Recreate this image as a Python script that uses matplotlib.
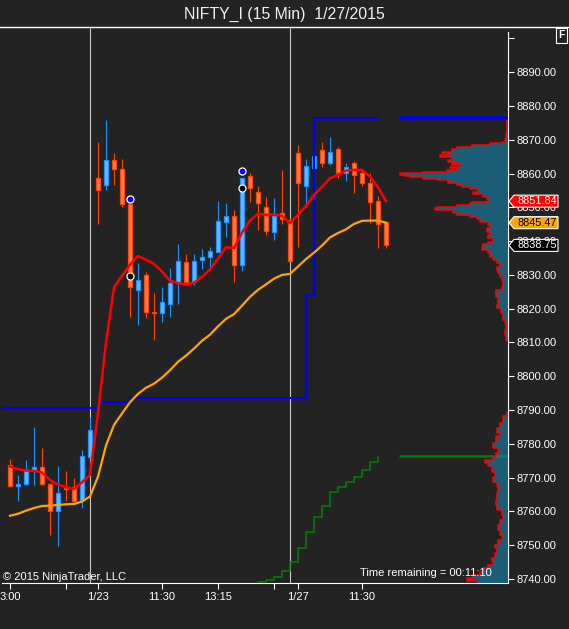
import matplotlib
matplotlib.use('Agg')
import matplotlib.pyplot as plt
import numpy as np
from matplotlib.patches import Polygon
from matplotlib.lines import Line2D
from matplotlib.transforms import IdentityTransform

plt.rcParams['font.family'] = ['Liberation Sans', 'DejaVu Sans']

# 15 min bars (bar index 0 = left edge)
opens = [8773.8, 8767.4, 8768.0, 8772.3, 8773.1, 8768.1, 8760.2, 8766.8, 8767.1, 8763.4,
         8776.2, 8858.6, 8856.7, 8864.0, 8861.3, 8850.9, 8825.4, 8830.0, 8819.1, 8818.7,
         8821.3, 8827.6, 8833.8, 8827.8, 8834.3, 8835.2, 8836.9, 8845.8, 8847.5, 8832.8,
         8859.3, 8854.5, 8850.0, 8842.8, 8848.3, 8846.3, 8866.0, 8856.2, 8861.6, 8867.0,
         8863.1, 8867.2, 8860.1, 8863.1, 8860.1, 8857.1, 8851.9, 8845.6]
highs = [8775.4, 8770.8, 8775.2, 8785.1, 8778.7, 8768.3, 8773.5, 8772.1, 8769.8, 8778.2,
         8788.0, 8869.5, 8875.9, 8866.2, 8864.3, 8851.0, 8833.5, 8831.0, 8824.8, 8826.3,
         8832.0, 8839.2, 8836.2, 8836.2, 8837.7, 8838.4, 8851.9, 8851.2, 8849.3, 8858.6,
         8860.3, 8856.4, 8853.0, 8852.9, 8861.1, 8846.8, 8868.5, 8864.3, 8868.0, 8869.5,
         8870.7, 8868.0, 8863.1, 8863.8, 8861.1, 8860.1, 8853.4, 8845.6]
lows = [8767.2, 8763.2, 8767.9, 8767.9, 8767.8, 8753.1, 8749.9, 8763.2, 8762.9, 8761.1,
        8776.0, 8845.1, 8855.0, 8856.6, 8850.2, 8817.5, 8815.2, 8817.2, 8810.6, 8816.2,
        8817.5, 8821.3, 8827.1, 8827.1, 8831.7, 8832.2, 8836.9, 8841.2, 8828.0, 8831.3,
        8851.7, 8843.3, 8841.7, 8840.2, 8845.1, 8834.0, 8838.4, 8850.2, 8855.2, 8862.1,
        8862.4, 8858.6, 8857.9, 8854.4, 8856.2, 8845.5, 8838.1, 8838.1]
closes = [8767.4, 8768.0, 8772.3, 8773.1, 8768.0, 8760.2, 8765.4, 8766.5, 8763.2, 8776.4,
          8784.1, 8855.0, 8864.0, 8861.3, 8850.9, 8826.4, 8828.5, 8818.9, 8818.7, 8822.0,
          8827.6, 8834.0, 8827.8, 8834.0, 8835.2, 8837.1, 8846.0, 8847.5, 8832.8, 8858.6,
          8855.6, 8851.4, 8843.1, 8847.5, 8846.5, 8834.0, 8857.3, 8862.3, 8865.2, 8863.1,
          8866.3, 8860.1, 8861.9, 8859.6, 8857.1, 8851.7, 8845.0, 8838.75]

# moving averages
red_ma = [8773.3, 8772.5, 8772.1, 8772.0, 8771.5, 8769.3, 8767.9, 8767.2, 8766.6, 8768.6,
          8770.8, 8789.1, 8810.0, 8826.3, 8829.8, 8833.0, 8835.6, 8834.5, 8833.3, 8831.0,
          8828.3, 8827.6, 8827.1, 8827.7, 8829.4, 8831.6, 8834.8, 8838.2, 8838.0, 8842.5,
          8846.1, 8848.1, 8847.8, 8848.0, 8847.5, 8845.3, 8847.8, 8850.4, 8853.7, 8856.0,
          8858.6, 8859.6, 8860.9, 8861.1, 8861.1, 8859.1, 8856.0, 8851.84]
orange_ma = [8758.7, 8759.3, 8760.2, 8761.0, 8761.6, 8761.7, 8761.9, 8762.1, 8762.2, 8762.9,
             8764.4, 8770.3, 8779.5, 8785.6, 8789.0, 8792.3, 8794.8, 8796.6, 8797.8, 8799.6,
             8801.8, 8804.3, 8806.1, 8808.2, 8810.5, 8812.3, 8814.8, 8817.0, 8818.4, 8820.9,
             8823.5, 8825.6, 8827.2, 8828.9, 8830.0, 8830.3, 8832.5, 8834.7, 8836.6, 8838.7,
             8841.1, 8842.4, 8843.5, 8845.1, 8846.0, 8846.1, 8846.1, 8845.47]

# step indicators
blue_step_bars = [-1, 11, 15, 37, 38, 46]
blue_step_levels = [8790.5, 8792.3, 8793.5, 8824.1, 8876.4, 8876.4]
green_step_bars = list(range(31, 47))
green_step_levels = [8739.0, 8739.7, 8740.5, 8742.3, 8745.0, 8749.1, 8753.8, 8758.3,
                     8761.5, 8765.7, 8767.2, 8768.6, 8770.1, 8772.2, 8774.7, 8776.0]
blue_level = 8876.4
green_level = 8776.3

swing_bars = [15, 29]
swing_high_dots = [8852.4, 8860.7]
swing_low_dots = [8829.7, 8855.7]

session_breaks = [10, 35]
tick_bars = [0, 7, 11, 19, 26, 33, 36, 44]
tick_labels = ['3:00', '', '1/23', '11:30', '13:15', '', '1/27', '11:30']
price_ticks = np.arange(8740, 8901, 10)

last_red = 8851.84
last_orange = 8845.47
last_close = 8838.75

# volume profile (price, relative volume)
prof_hi_price = [8875.9, 8871.9, 8870.1, 8869.4, 8869.1, 8868.5, 8868.0, 8867.2, 8866.5, 8866.0,
                 8865.5, 8865.0, 8864.0, 8863.5, 8863.0, 8862.5, 8862.0, 8861.6, 8861.1, 8860.6,
                 8860.1, 8859.6, 8859.3, 8858.9, 8858.5, 8858.1, 8857.3, 8856.6, 8855.9, 8855.3,
                 8854.6, 8854.0, 8853.2, 8852.4, 8851.7, 8851.2, 8850.7, 8850.2, 8849.7, 8849.2,
                 8848.4, 8847.7, 8847.2, 8846.5, 8845.8, 8844.8, 8843.8, 8842.8, 8841.8, 8840.8,
                 8839.8, 8839.2, 8838.4, 8837.4, 8836.4, 8835.4, 8834.4, 8833.4, 8832.4, 8831.5,
                 8830.5, 8829.5, 8828.5, 8826.5, 8825.5, 8823.6, 8821.1, 8820.1, 8818.6, 8816.7,
                 8815.7, 8813.7, 8812.2, 8810.7, 8810.3]
prof_hi_vol = [1.3, 2, 3, 6.3, 18, 36.3, 51.3, 56.3, 66.3, 59.7,
               68, 56.3, 59.7, 49.7, 56.3, 48, 58, 51.3, 61.3, 84.7,
               108, 103, 98, 84.7, 71.3, 59.7, 51.3, 46.3, 38, 29.7,
               34.7, 24.7, 21.3, 19.7, 36.3, 38, 51.3, 71.3, 73, 54.7,
               51.3, 38, 31.3, 28, 19.7, 18, 21.3, 18, 19.7, 14.7,
               19.7, 24.7, 26.3, 19.7, 18, 14.7, 11.3, 8, 11.3, 9.7,
               8, 6.3, 4.7, 6.3, 12.3, 10, 11, 6.7, 5, 3.3,
               1.7, 2.7, 1.7, 0.7, 0]
prof_lo_price = [8789.5, 8788.1, 8786.1, 8784.6, 8783.1, 8782.2, 8780.2, 8778.7, 8777.2, 8776.2,
                 8775.2, 8774.3, 8773.3, 8771.8, 8770.3, 8768.8, 8767.4, 8765.4, 8763.4, 8761.9,
                 8760.5, 8759.0, 8757.5, 8756.0, 8754.5, 8753.1, 8751.6, 8750.1, 8749.1, 8747.6,
                 8746.2, 8745.2, 8744.2, 8743.2, 8742.2, 8741.2, 8740.2, 8739.3, 8738.8]
prof_lo_vol = [1.3, 4.7, 8, 10.7, 8, 12, 14.7, 9.7, 12, 14.7,
               23, 19.7, 16.3, 13, 14.7, 11.3, 9.7, 11.3, 12, 11.3,
               6.3, 4.7, 8, 9.7, 8, 6.3, 9.7, 13, 11.3, 13,
               16.3, 14.7, 19.7, 24.7, 28, 34.7, 41.3, 31.3, 31.3]

W, H = 569, 629
bg = '#232323'
fig = plt.figure(figsize=(W / 100, H / 100), dpi=100, facecolor=bg)
rect = [2 / W, 46 / H, 506 / W, 556 / H]
ax = fig.add_axes(rect, facecolor=bg)
ax.set_xlim(-1, 62.25)
ax.set_ylim(8738.8, 8903.4)

for b in session_breaks:
    ax.axvline(b, color='#c8c8c8', lw=0.8, zorder=1)

# candles
x = np.arange(len(opens))
o, h, l, c = (np.array(a) for a in (opens, highs, lows, closes))
up = c >= o
body_lo = np.minimum(o, c)
body_h = np.maximum(np.abs(c - o), 0.25)
ax.vlines(x[up], l[up], h[up], color='#1e90ff', lw=0.8, zorder=2)
ax.vlines(x[~up], l[~up], h[~up], color='#ff4500', lw=0.8, zorder=2)
ax.bar(x[up], body_h[up], 0.6, bottom=body_lo[up], color='#6cb8ff',
       edgecolor='#1e90ff', lw=0.9, zorder=3)
ax.bar(x[~up], body_h[~up], 0.6, bottom=body_lo[~up], color='#ff7f50',
       edgecolor='#ff4500', lw=0.9, zorder=3)

# indicators
ax.plot(blue_step_bars, blue_step_levels, drawstyle='steps-post', color='#0000ff', lw=1.5, zorder=4)
ax.plot(green_step_bars, green_step_levels, drawstyle='steps-post', color='#008000', lw=1.1, zorder=4)
ax.plot(x, orange_ma, color='#ffa500', lw=1.6, zorder=5)
ax.plot(x, red_ma, color='#ff0000', lw=1.8, zorder=6)
ax.hlines(blue_level, 48.6, 62.25, color='#0000ff', lw=2.6, zorder=4)
ax.hlines(green_level, 48.6, 62.25, color='#008000', lw=1.8, zorder=4)

ax.scatter(swing_bars, swing_high_dots, s=26, c='#0000ff', edgecolors='white', linewidths=0.9, zorder=7)
ax.scatter(swing_bars, swing_low_dots, s=26, c='black', edgecolors='white', linewidths=0.9, zorder=7)

# axes styling
for s in ('top', 'left'):
    ax.spines[s].set_visible(False)
ax.spines['right'].set_color('white')
ax.spines['bottom'].set_color('white')
ax.spines['right'].set_bounds(8738.8, 8901.9)
ax.yaxis.tick_right()
ax.set_yticks(price_ticks)
ax.set_yticklabels(['%.2f' % p if p < 8900 else '' for p in price_ticks])
ax.set_xticks(tick_bars)
ax.set_xticklabels(tick_labels)
ax.tick_params(axis='y', colors='white', length=4.3, width=0.8, pad=1.5, labelsize=8)
ax.tick_params(axis='x', colors='white', length=4.3, width=0.8, pad=2.5, labelsize=8)

# volume profile on the right
prof = fig.add_axes(rect)
prof.set_xlim(506, 0)
prof.set_ylim(ax.get_ylim())
prof.patch.set_visible(False)
prof.axis('off')


def step_outline(p, v):
    return np.repeat(v, 2)[:-1], np.repeat(p, 2)[1:]


for pp, vv in ((prof_hi_price, prof_hi_vol), (prof_lo_price, prof_lo_vol)):
    xs, ys = step_outline(pp, vv)
    prof.fill_betweenx(ys, 0, xs, color='#1485ad', alpha=0.6, lw=0)
    prof.plot(xs, ys, color='#ff0000', lw=1.1)

# frame lines and labels
fig.add_artist(Line2D([0, 1], [1 - 27 / H] * 2, color='white', lw=1, transform=fig.transFigure))
fig.text(0.5, 1 - 14 / H, 'NIFTY_I (15 Min)  1/27/2015', ha='center', va='center',
         color='#f0f0f0', fontsize=11.4)
fig.text(561.5 / W, 1 - 35.5 / H, 'F', ha='center', va='center', color='white', fontsize=7.5,
         fontweight='bold', bbox=dict(boxstyle='square,pad=0.2', fc=bg, ec='white', lw=0.8))
fig.text(3 / W, 1 - 580 / H, '© 2015 NinjaTrader, LLC', color='white', fontsize=8, va='baseline')
fig.text(492 / W, 1 - 576 / H, 'Time remaining = 00:11:10', ha='right', va='baseline',
         color='white', fontsize=8)


def price_tag(price, face, text_color):
    yc = ax.transData.transform((0, price))[1]
    x0 = ax.transAxes.transform((1, 0))[0] + 1
    pts = [(x0, yc), (x0 + 5, yc + 6), (x0 + 49, yc + 6), (x0 + 49, yc - 6), (x0 + 5, yc - 6)]
    fig.add_artist(Polygon(pts, closed=True, fc=face, ec='white', lw=0.8,
                           transform=IdentityTransform()))
    fig.text((x0 + 9) / W, yc / H, '%.2f' % price, color=text_color, fontsize=7.8, va='center')


price_tag(last_red, '#ff0000', 'white')
price_tag(last_orange, '#ffa500', 'black')
price_tag(last_close, 'black', 'white')

fig.savefig('out.png', dpi=100, facecolor=bg)
